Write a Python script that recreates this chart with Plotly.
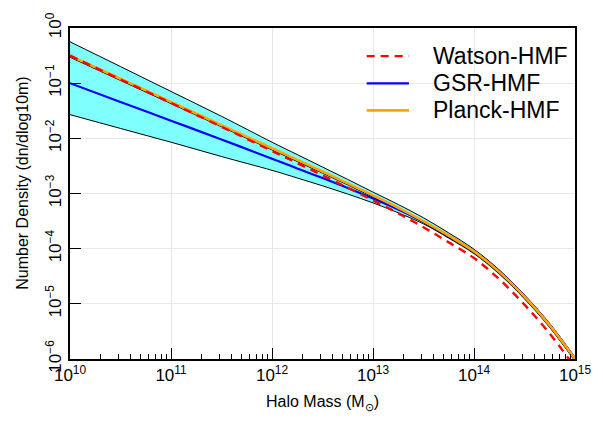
import plotly.graph_objects as go

# Halo mass grid (solar masses)
halo_mass = [1e10, 3.16e10, 1e11, 3.16e11, 1e12, 1.78e12, 3.16e12, 5.62e12, 1e13,
             1.78e13, 3.16e13, 5.62e13, 1e14, 1.78e14, 3.16e14, 5.62e14, 1e15]

# Number density dn/dlog10m for each mass function
watson_hmf = [3.16e-1, 1.17e-1, 4.37e-2, 1.62e-2, 5.89e-3, 3.55e-3, 2.14e-3, 1.27e-3, 7.50e-4,
              4.37e-4, 2.45e-4, 1.30e-4, 6.76e-5, 2.79e-5, 9.66e-6, 2.88e-6, 7.08e-7]
gsr_hmf = [1.00e-1, 4.57e-2, 2.09e-2, 9.55e-3, 4.27e-3, 2.85e-3, 1.91e-3, 1.26e-3, 8.13e-4,
           5.13e-4, 3.09e-4, 1.70e-4, 8.91e-5, 3.89e-5, 1.38e-5, 4.17e-6, 1.02e-6]
planck_hmf = [3.16e-1, 1.20e-1, 4.57e-2, 1.74e-2, 6.61e-3, 4.07e-3, 2.51e-3, 1.53e-3, 9.23e-4,
              5.50e-4, 3.16e-4, 1.72e-4, 8.91e-5, 3.80e-5, 1.35e-5, 4.07e-6, 1.00e-6]

# Envelope of the GSR mass function and its central boundary
band_upper = [5.62e-1, 2.00e-1, 7.08e-2, 2.51e-2, 8.51e-3, 5.07e-3, 3.02e-3, 1.80e-3, 1.06e-3,
              6.31e-4, 3.63e-4, 1.93e-4, 9.77e-5, 4.12e-5, 1.45e-5, 4.37e-6, 1.07e-6]
band_lower = [2.69e-2, 1.51e-2, 8.51e-3, 4.68e-3, 2.63e-3, 1.91e-3, 1.38e-3, 9.77e-4, 6.76e-4,
              4.47e-4, 2.82e-4, 1.55e-4, 8.13e-5, 3.47e-5, 1.23e-5, 3.72e-6, 9.12e-7]
band_mid = [2.95e-1, 1.12e-1, 4.27e-2, 1.62e-2, 6.17e-3, 3.80e-3, 2.34e-3, 1.43e-3, 8.61e-4,
            5.13e-4, 2.95e-4, 1.60e-4, 8.32e-5, 3.55e-5, 1.26e-5, 3.80e-6, 9.33e-7]

x_tick_vals = [1e10, 1e11, 1e12, 1e13, 1e14, 1e15]
x_tick_text = ["10<sup>10</sup>", "10<sup>11</sup>", "10<sup>12</sup>",
               "10<sup>13</sup>", "10<sup>14</sup>", "10<sup>15</sup>"]
y_tick_vals = [1e-6, 1e-5, 1e-4, 1e-3, 1e-2, 1e-1, 1e0]
y_tick_text = ["10<sup>\u22126</sup>", "10<sup>\u22125</sup>", "10<sup>\u22124</sup>",
               "10<sup>\u22123</sup>", "10<sup>\u22122</sup>", "10<sup>\u22121</sup>",
               "10<sup>0</sup>"]
x_minor_vals = [m * 10 ** e for e in range(10, 15) for m in range(2, 10)]

FONT = "Liberation Sans, Arial, Helvetica, sans-serif"
CYAN = "rgb(128,255,255)"

series = [
    # name, values, colour, width, dash
    ("Watson-HMF", watson_hmf, "red", 2.4, "8px,6px"),
    ("GSR-HMF", gsr_hmf, "blue", 2.2, "solid"),
    ("Planck-HMF", planck_hmf, "orange", 2.6, "solid"),
]

fig = go.Figure()

# shaded envelope
fig.add_trace(go.Scatter(x=halo_mass, y=band_lower, mode="lines",
                         line=dict(color="black", width=1, shape="spline"),
                         showlegend=False, hoverinfo="skip"))
fig.add_trace(go.Scatter(x=halo_mass, y=band_upper, mode="lines",
                         line=dict(color="black", width=1, shape="spline"),
                         fill="tonexty", fillcolor=CYAN, showlegend=False,
                         hoverinfo="skip"))
fig.add_trace(go.Scatter(x=halo_mass, y=band_mid, mode="lines",
                         line=dict(color="black", width=1, shape="spline"),
                         showlegend=False, hoverinfo="skip"))

# curves, drawn GSR first, then Planck, Watson on top
for idx in (1, 2, 0):
    name, vals, colour, width, dash = series[idx]
    fig.add_trace(go.Scatter(x=halo_mass, y=vals, mode="lines", name=name,
                             line=dict(color=colour, width=width, dash=dash,
                                       shape="spline"),
                             showlegend=False))

# legend: sample line + label per series
legend_rows_y = [0.915, 0.833, 0.751]
for (name, _, colour, width, dash), ly in zip(series, legend_rows_y):
    fig.add_shape(type="line", xref="paper", yref="paper",
                  x0=0.5875, x1=0.6712, y0=ly, y1=ly,
                  line=dict(color=colour, width=width, dash=dash))
    fig.add_annotation(x=0.714, y=ly, xref="paper", yref="paper", text=name,
                       showarrow=False, xanchor="left", yanchor="middle",
                       font=dict(family=FONT, size=23, color="black"))

# y-axis title
fig.add_annotation(x=-0.0934, y=0.532, xref="paper", yref="paper",
                   text="Number Density (dn/dlog10m)", textangle=-90,
                   showarrow=False, xanchor="center", yanchor="middle",
                   font=dict(family=FONT, size=16, color="black"))

axis_common = dict(
    type="log", showline=True, linecolor="black", linewidth=1.5, mirror=True,
    showgrid=True, gridcolor="#e8e8e8", gridwidth=1, zeroline=False,
    ticks="inside", ticklen=11, tickwidth=1, tickcolor="black",
    tickfont=dict(family=FONT, size=17, color="black"),
)

fig.update_xaxes(
    **axis_common, range=[10, 15], tickvals=x_tick_vals, ticktext=x_tick_text,
    minor=dict(tickvals=x_minor_vals, ticks="inside", ticklen=5, tickwidth=1,
               tickcolor="black", showgrid=False),
    title=dict(text="Halo Mass (M<sub>\u2299</sub>)",
               font=dict(family=FONT, size=16, color="black"), standoff=12),
)
fig.update_yaxes(
    **axis_common, range=[-6, 0], tickvals=y_tick_vals, ticktext=y_tick_text,
    tickangle=-90,
)

fig.update_layout(
    width=603, height=423,
    margin=dict(l=70, r=19, t=18, b=64),
    paper_bgcolor="white", plot_bgcolor="white",
    font=dict(family=FONT, color="black"),
    showlegend=False,
)

fig.write_html("out.html")
